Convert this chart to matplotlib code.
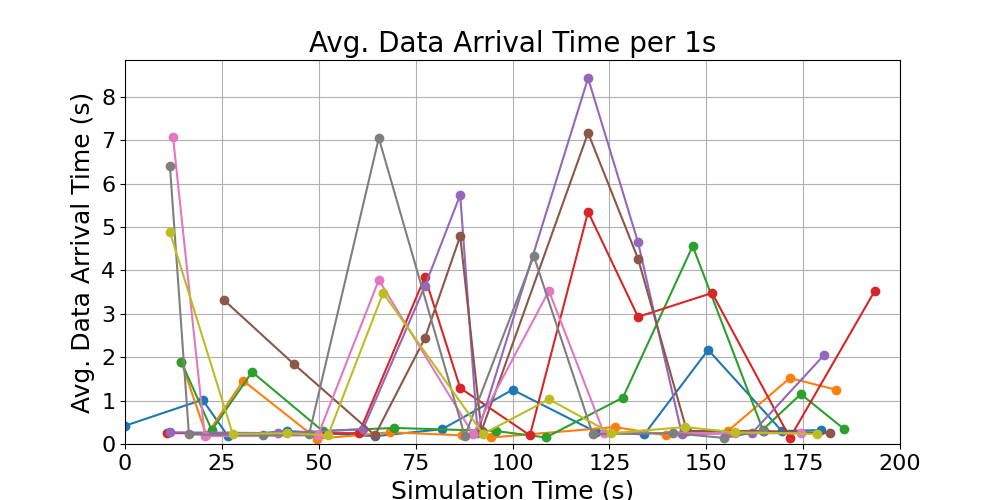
import matplotlib
matplotlib.use("Agg")
import matplotlib.pyplot as plt

series = [
    ([0, 20, 26.6, 41.8, 64.5, 81.8, 100, 121.5, 134, 150.5, 169.5, 179.6],
     [0.42, 1.02, 0.18, 0.3, 0.18, 0.34, 1.25, 0.28, 0.22, 2.17, 0.3, 0.32]),
    ([14.5, 21, 30.5, 49.5, 68.4, 87, 94.5, 126.5, 139.6, 155.6, 171.6, 183.5],
     [1.9, 0.2, 1.46, 0.12, 0.27, 0.2, 0.15, 0.39, 0.2, 0.3, 1.52, 1.25]),
    ([14.5, 22.4, 32.8, 51, 69.4, 95.7, 108.6, 128.5, 146.5, 164.6, 174.4, 185.5],
     [1.9, 0.32, 1.66, 0.3, 0.37, 0.3, 0.15, 1.07, 4.56, 0.33, 1.15, 0.35]),
    ([10.8, 60.4, 77.4, 86.5, 104.5, 119.5, 132.4, 151.5, 171.6, 193.5],
     [0.25, 0.25, 3.85, 1.29, 0.2, 5.35, 2.93, 3.48, 0.14, 3.53]),
    ([11.6, 39.5, 61.4, 77.4, 86.5, 91, 119.5, 132.4, 143.7, 161.8, 180.4],
     [0.27, 0.25, 0.34, 3.64, 5.74, 0.25, 8.43, 4.65, 0.23, 0.25, 2.05]),
    ([25.5, 43.6, 64.5, 77.4, 86.5, 92, 119.5, 132.4, 145, 165, 182],
     [3.32, 1.84, 0.2, 2.44, 4.79, 0.3, 7.17, 4.27, 0.3, 0.3, 0.25]),
    ([12.4, 20.6, 49.8, 65.5, 89.8, 109.4, 123.6, 157.4, 174.4],
     [7.07, 0.18, 0.2, 3.78, 0.23, 3.53, 0.25, 0.25, 0.25]),
    ([11.6, 16.5, 35.6, 47.5, 65.5, 87.7, 105.5, 120.7, 141.4, 154.6, 164.6],
     [6.4, 0.22, 0.2, 0.22, 7.05, 0.18, 4.33, 0.23, 0.25, 0.14, 0.3]),
    ([11.6, 27.8, 41.8, 52.4, 66.6, 92.4, 109.4, 125.5, 144.5, 157.4, 178.6],
     [4.88, 0.23, 0.25, 0.2, 3.48, 0.23, 1.03, 0.25, 0.39, 0.27, 0.23]),
]

fig = plt.figure(figsize=(10, 5), dpi=100)
ax = fig.add_axes([0.125, 0.112, 0.775, 0.768])
for xs, ys in series:
    ax.plot(xs, ys, marker="o", linewidth=1.5, markersize=6)
ax.set_xlim(0, 200)
ax.set_ylim(0, 8.85)
ax.set_yticks(range(0, 9))
ax.grid(True)
ax.tick_params(labelsize=16)
ax.set_xlabel("Simulation Time (s)", fontsize=18)
ax.set_ylabel("Avg. Data Arrival Time (s)", fontsize=18)
ax.set_title("Avg. Data Arrival Time per 1s", fontsize=20)
fig.savefig("out.png")
